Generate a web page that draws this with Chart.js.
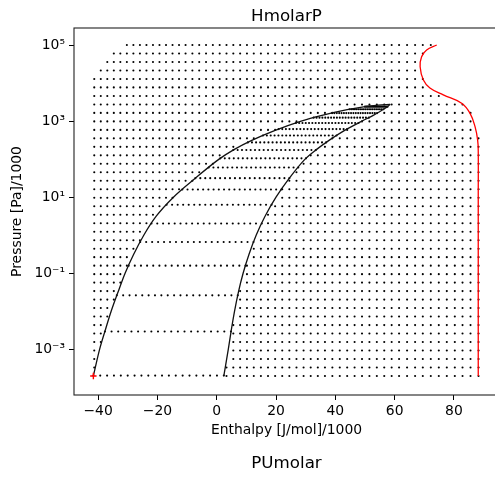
<!DOCTYPE html>
<html>
<head>
<meta charset="utf-8">
<script src="https://cdn.jsdelivr.net/npm/chart.js@4.4.1/dist/chart.umd.min.js"></script>
<style>
  html, body { margin: 0; padding: 0; overflow: hidden; background: #fff; }
  canvas { display: block; }
</style>
</head>
<body>
<canvas id="c" width="510" height="478" style="width:510px;height:478px"></canvas>
<script>
// ---- texts -------------------------------------------------------------
const titleText = 'HmolarP';
const nextTitleText = 'PUmolar';
const xTitle = 'Enthalpy [J/mol]/1000';
const yTitle = 'Pressure [Pa]/1000';

// ---- axes ----------------------------------------------------------------
const xTickValues = [-40, -20, 0, 20, 40, 60, 80];
const yTickExponents = [-3, -1, 1, 3, 5];

// ---- single-phase grid -------------------------------------------------
// log10(p / kPa) of each single-phase row
const rowLogP = [5.000, 4.777, 4.554, 4.331, 4.108, 3.885, 3.661, 3.438, 3.215, 2.992,
                 2.769, 2.546, 2.323, 2.100, 1.877, 1.654, 1.431, 1.208, 0.985, 0.762,
                 0.538, 0.315, 0.092, -0.131, -0.354, -0.577, -0.800, -1.023, -1.246, -1.469,
                 -1.692, -1.915, -2.138, -2.362, -2.585, -2.808, -3.031, -3.254, -3.477, -3.700];
// enthalpy (kJ/mol) of the dot columns
const enthalpyColumns = [-41.3, -39.1, -36.9, -34.7, -32.5, -30.3, -28.1, -25.9, -23.7, -21.5,
                         -19.3, -17.1, -14.9, -12.7, -10.5, -8.2, -5.9, -3.6, -1.3, 1.0,
                         3.3, 5.6, 7.9, 10.2, 12.5, 14.9, 17.3, 19.7, 22.1, 24.5,
                         26.9, 29.3, 31.7, 34.1, 36.5, 39.0, 41.5, 44.0, 46.5, 49.0,
                         51.5, 54.0, 56.5, 59.0, 61.5, 64.2, 66.9, 69.5, 72.2, 74.9,
                         77.6, 80.3, 82.9, 85.6, 88.3];
// first and last enthalpy reached on each row
const rowFirstH = [-31.2, -35.5, -37.8, -39.7, -40.5, -41.3, -41.3, -41.3, -41.3, -41.3,
                   -41.3, -41.3, -41.3, -41.3, -41.3, -41.3, -41.3, -41.3, -41.3, -41.3,
                   -41.3, -41.3, -41.3, -41.3, -41.3, -41.3, -41.3, -41.3, -41.3, -41.3,
                   -41.3, -41.3, -41.3, -41.3, -41.3, -41.3, -41.3, -41.3, -41.3, -41.3];
const rowLastH = [74.2, 70.0, 68.8, 68.8, 69.5, 71.7, 77.2, 83.0, 85.4, 86.5,
                  87.4, 88.3, 88.3, 88.3, 88.3, 88.3, 88.3, 88.3, 88.3, 88.3,
                  88.3, 88.3, 88.3, 88.3, 88.3, 88.3, 88.3, 88.3, 88.3, 88.3,
                  88.3, 88.3, 88.3, 88.3, 88.3, 88.3, 88.3, 88.3, 88.3, 88.3];
// saturated liquid / vapour enthalpy at each row pressure (null above the critical point)
const rowSatLiqH = [null, null, null, null, null, null, null, null, 39.2, 28.2,
                    20.2, 13.4, 7.6, 2.8, -1.2, -4.7, -8.2, -11.5, -14.8, -17.4,
                    -20.0, -22.0, -23.8, -25.5, -27.0, -28.4, -29.7, -31.0, -32.1, -33.2,
                    -34.2, -35.2, -36.2, -37.0, -37.9, -39.0, -39.6, -40.3, -40.9, -41.6];
const rowSatVapH = [null, null, null, null, null, null, null, null, 54.2, 48.8,
                    43.5, 38.9, 34.9, 31.3, 28.5, 26.1, 23.9, 21.9, 19.9, 18.2,
                    16.6, 15.2, 13.9, 12.7, 11.6, 10.6, 9.7, 8.8, 8.1, 7.4,
                    6.8, 6.2, 5.7, 5.2, 4.7, 4.2, 3.8, 3.4, 2.9, 2.4];

// ---- saturation curves ---------------------------------------------------
const curveLogP = [-3.70, -3.0, -2.5, -2.0, -1.5, -1.0, -0.5, 0.0, 0.5, 1.0,
                   1.5, 2.0, 2.25, 2.5, 2.75, 3.0, 3.15, 3.3, 3.38, 3.42, 3.44];
const curveLiqH = [-41.6, -39.5, -37.6, -35.6, -33.3, -30.9, -28.0, -24.6, -20.4, -14.6,
                   -7.2, 0.8, 5.8, 12.0, 19.5, 28.5, 35.5, 44.0, 50.0, 54.5, 58.5];
const curveVapH = [2.4, 3.9, 4.9, 6.0, 7.3, 8.9, 10.9, 13.3, 16.3, 20.0,
                   24.5, 29.8, 33.6, 38.0, 43.0, 49.0, 52.8, 56.0, 57.6, 58.2, 58.5];

// ---- two-phase rows (constant-pressure quality sweeps) -----------------
const satLogP = [-3.69, -2.53, -1.58, -0.80, -0.18, 0.31, 0.80, 1.20, 1.50, 1.78,
                 2.02, 2.24, 2.44, 2.62, 2.79, 2.95, 3.09, 3.21, 3.31, 3.38];
const satLiqH = [-41.6, -37.7, -33.7, -29.7, -25.8, -22.0, -16.9, -11.6, -7.2, -2.7,
                 1.2, 5.6, 10.5, 15.6, 20.9, 26.7, 32.7, 38.9, 44.8, 50.0];
const satVapH = [2.4, 4.8, 7.1, 9.7, 12.4, 15.2, 18.5, 21.8, 24.5, 27.5,
                 30.1, 33.4, 36.9, 40.4, 44.0, 47.8, 51.3, 54.1, 56.2, 57.6];
const qualities = [0, 0.0526, 0.1053, 0.1579, 0.2105, 0.2632, 0.3158, 0.3684, 0.4211, 0.4737,
                   0.5263, 0.5789, 0.6316, 0.6842, 0.7368, 0.7895, 0.8421, 0.8947, 0.9474, 1];

// ---- upper temperature limit (red) and triple-point marker ------------
const limitLogP = [-3.70, -1.0, 1.0, 2.20, 2.50, 2.86, 3.21, 3.47, 3.69, 3.87, 4.08, 4.43, 4.69, 4.87, 5.00];
const limitH = [88.2, 88.2, 88.2, 88.2, 88.0, 87.1, 85.4, 82.6, 76.4, 71.9, 69.7, 68.6, 69.1, 70.8, 74.2];
const tripleH = -41.6;
const tripleLogP = -3.70;

// ---- build point lists ------------------------------------------------
const P = lp => Math.pow(10, lp);

const singlePhase = [];
rowLogP.forEach((lp, i) => {
  enthalpyColumns.forEach(h => {
    if (h < rowFirstH[i] - 1.0 || h > rowLastH[i] + 0.3) return;
    if (rowSatLiqH[i] !== null && h > rowSatLiqH[i] && h < rowSatVapH[i]) return;
    singlePhase.push({ x: h, y: P(lp) });
  });
});

const twoPhase = [];
satLogP.forEach((lp, k) => {
  qualities.forEach(q => {
    twoPhase.push({ x: satLiqH[k] + q * (satVapH[k] - satLiqH[k]), y: P(lp) });
  });
});

const liquidLine = curveLogP.map((lp, k) => ({ x: curveLiqH[k], y: P(lp) }));
const vapourLine = curveLogP.map((lp, k) => ({ x: curveVapH[k], y: P(lp) }));
const limitLine = limitLogP.map((lp, k) => ({ x: limitH[k], y: P(lp) }));

// ---- chart ---------------------------------------------------------------
const FONT = "'DejaVu Sans', 'Liberation Sans', sans-serif";
Chart.defaults.font.family = FONT;
Chart.defaults.color = '#000';

const SUP = { '-': '\u207B', '0': '\u2070', '1': '\u00B9', '2': '\u00B2', '3': '\u00B3',
              '4': '\u2074', '5': '\u2075', '6': '\u2076', '7': '\u2077', '8': '\u2078', '9': '\u2079' };
const sup = s => String(s).split('').map(c => SUP[c] || c).join('');

const framePlugin = {
  id: 'frame',
  afterDraw(chart) {
    const { ctx, chartArea: a } = chart;
    ctx.save();
    ctx.strokeStyle = '#222';
    ctx.lineWidth = 1.1;
    ctx.strokeRect(a.left, a.top, a.right - a.left, a.bottom - a.top);
    ctx.fillStyle = '#000';
    ctx.font = '16.7px ' + FONT;
    ctx.textAlign = 'center';
    ctx.textBaseline = 'alphabetic';
    const cx = (a.left + a.right) / 2;
    ctx.fillText(titleText, cx, 20.5);
    ctx.fillText(nextTitleText, cx, 468);
    ctx.restore();
  }
};

new Chart(document.getElementById('c'), {
  type: 'scatter',
  data: {
    datasets: [
      { data: [{ x: tripleH, y: P(tripleLogP) }], pointStyle: 'cross', pointRadius: 3.2,
        pointBorderColor: '#ff0000', pointBorderWidth: 1.4, order: 0 },
      { data: limitLine, showLine: true, borderColor: '#ff0000', borderWidth: 1.3,
        pointRadius: 0, tension: 0.4, order: 1 },
      { data: liquidLine, showLine: true, borderColor: '#111', borderWidth: 1.3,
        pointRadius: 0, cubicInterpolationMode: 'monotone', order: 2 },
      { data: vapourLine, showLine: true, borderColor: '#111', borderWidth: 1.3,
        pointRadius: 0, cubicInterpolationMode: 'monotone', order: 2 },
      { data: twoPhase, pointRadius: 1.05, pointBackgroundColor: '#000',
        pointBorderWidth: 0, order: 3 },
      { data: singlePhase, pointRadius: 1.05, pointBackgroundColor: '#000',
        pointBorderWidth: 0, order: 4 }
    ]
  },
  options: {
    responsive: false,
    animation: false,
    events: [],
    layout: { padding: { top: 28, right: 11, bottom: 39, left: 0 } },
    plugins: { legend: { display: false }, tooltip: { enabled: false }, title: { display: false } },
    scales: {
      x: {
        type: 'linear',
        min: -48.13,
        max: 95.2,
        afterBuildTicks: s => { s.ticks = xTickValues.map(v => ({ value: v })); },
        afterFit: s => { s.height = 44; },
        grid: { display: true, drawOnChartArea: false, drawTicks: true, tickLength: 5,
                color: '#000', lineWidth: 1 },
        border: { display: false },
        ticks: { autoSkip: false, maxRotation: 0, padding: 3, color: '#000',
                 font: { size: 13.9 },
                 callback: v => String(v).replace('-', '\u2212') },
        title: { display: true, text: xTitle, color: '#000', font: { size: 13.9 },
                 padding: { top: 0, bottom: 0 } }
      },
      y: {
        type: 'logarithmic',
        min: Math.pow(10, -4.20),
        max: Math.pow(10, 5.447),
        afterBuildTicks: s => { s.ticks = yTickExponents.map(e => ({ value: Math.pow(10, e) })); },
        afterFit: s => { s.width = 74; },
        grid: { display: true, drawOnChartArea: false, drawTicks: true, tickLength: 5,
                color: '#000', lineWidth: 1 },
        border: { display: false },
        ticks: { autoSkip: false, padding: 4, color: '#000', font: { size: 13.9 },
                 callback: v => '10' + sup(Math.round(Math.log10(v))) },
        title: { display: true, text: yTitle, color: '#000', font: { size: 13.9 },
                 padding: { top: 9.5, bottom: 0 } }
      }
    }
  },
  plugins: [framePlugin]
});
</script>
</body>
</html>
